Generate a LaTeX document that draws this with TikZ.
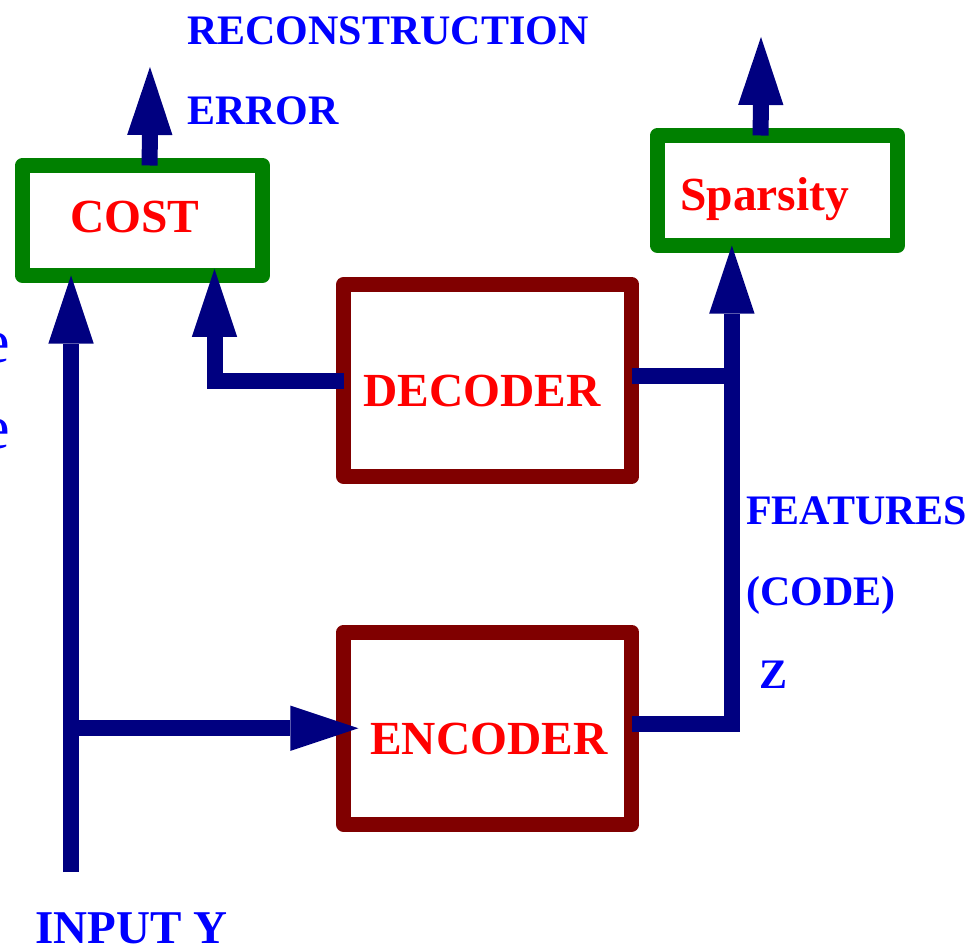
\documentclass[tikz,border=0pt]{standalone}
\usepackage{fontspec}
\setmainfont{Liberation Serif}
\usepackage{xcolor}
\definecolor{navy}{HTML}{000080}
\definecolor{boxgreen}{HTML}{008000}
\definecolor{maroon}{HTML}{800000}
\definecolor{labred}{HTML}{FF0000}
\definecolor{labblue}{HTML}{0000FF}
\usetikzlibrary{arrows.meta,calc,positioning}

\tikzset{
  block/.style={draw, line width=11.5pt, line join=round, inner sep=0pt, outer sep=0pt},
  costbox/.style={block, draw=boxgreen, minimum width=180pt, minimum height=82.5pt},
  codebox/.style={block, draw=maroon, minimum width=216pt, minimum height=144pt},
  bluetxt/.style={labblue, inner sep=0pt, anchor=base west, font=\bfseries\fontsize{31.5pt}{36pt}\selectfont},
  redtxt/.style={labred, inner sep=0pt, anchor=base west, font=\bfseries\fontsize{35.6pt}{40pt}\selectfont},
  wire/.style={navy, line width=12pt},
  flow/.style={wire, -{Triangle[length=51pt, width=34pt, line width=0pt]}},
}

\begin{document}
\begin{tikzpicture}[x=0.75pt, y=-0.75pt]

  \clip (0,0) rectangle (976,949);

  % ---- the four blocks ----
  \node[costbox] (cost) at (142.5,220.5) {};
  \node[costbox] (sparsity) at (777.5,190.5) {};
  \node[codebox] (decoder) at (487.75,380.5) {};
  \node[codebox] (encoder) at (487.75,728.25) {};

  % ---- wiring ----
  \coordinate (input) at (71,872);
  \coordinate (split) at (input |- encoder.west);
  \coordinate (costin) at ($(cost.south)!0.6!(cost.south east)$);
  \coordinate (costout) at ($(cost.north)!0.06!(cost.north east)$);
  \coordinate (spin) at ($(sparsity.south west)!0.31!(sparsity.south east)$);
  \coordinate (spout) at ($(sparsity.north west)!0.43!(sparsity.north east)$);
  \coordinate (errtip) at (150,67);
  \coordinate (sptip) at (761,37);
  \coordinate (decout) at ($(decoder.east)+(0,-5)$);
  \coordinate (encout) at ($(encoder.east)+(0,-4)$);

  \draw[flow] (input) -- (input |- cost.south);
  \draw[flow, shorten >=-11pt] (split) -- (encoder.west);
  \draw[flow, shorten >=-5pt] (decoder.west) -| (costin);
  \draw[flow] (encout) -| (spin);
  \draw[wire] (decout) -- (decout -| spin);
  \draw[flow] (costout) -- (errtip);
  \draw[flow] (spout) -- (sptip);

  % ---- block labels ----
  \node[redtxt] (costlbl) at (70,233) {COST};
  \node[redtxt] (sparsitylbl) at (680,210) {Sparsity};
  \node[redtxt] (decoderlbl) at (363,406) {DECODER};
  \node[redtxt] (encoderlbl) at (370,754) {ENCODER};

  % ---- signal labels ----
  \node[bluetxt] (recon) at (187,45) {RECONSTRUCTION};
  \node[bluetxt] (error) at (187,125) {ERROR};
  \node[bluetxt] (features) at (746,524) {FEATURES};
  \node[bluetxt] (code) at (746,605) {(CODE)};
  \node[bluetxt] (zlbl) at (759,688) {Z};
  \node[bluetxt, font=\bfseries\fontsize{35.25pt}{40pt}\selectfont] (inputlbl) at (35,943) {INPUT Y};

  % cut-off letters at the left edge
  \node[bluetxt, font=\fontsize{46.5pt}{50pt}\selectfont] (edgea) at (-18,362) {e};
  \node[bluetxt, font=\fontsize{46.5pt}{50pt}\selectfont] (edgeb) at (-18,448) {e};

\end{tikzpicture}
\end{document}
